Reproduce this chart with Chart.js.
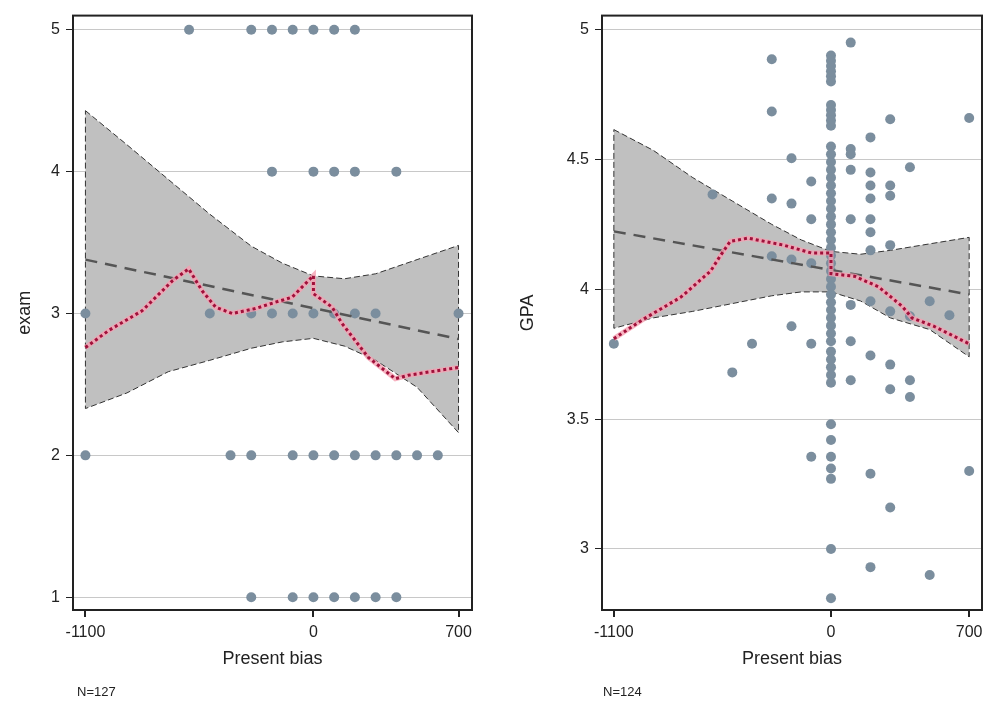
<!DOCTYPE html>
<html>
<head>
<meta charset="utf-8">
<script src="https://cdn.jsdelivr.net/npm/chart.js@4.4.0/dist/chart.umd.min.js"></script>
<style>
  body { margin: 0; background: #fff; }
  #wrap { position: relative; width: 987px; height: 704px; overflow: hidden; }
  canvas { position: absolute; top: 0; }
  .note { position: absolute; top: 684px; font: 13px "Liberation Sans", Arial, sans-serif; color: #222; }
</style>
</head>
<body>
<div id="wrap">
  <canvas id="left" width="487" height="704" style="left:0"></canvas>
  <canvas id="right" width="487" height="704" style="left:500px"></canvas>
  <div class="note" style="left:77px">N=127</div>
  <div class="note" style="left:603px">N=124</div>
</div>
<script>
// x axis (Present bias), same for both panels
var xTicks = [-1100, 0, 700];

// ---- left panel: exam ----
var examTicks = [1, 2, 3, 4, 5];
var examLevels = [5, 4, 3, 2, 1];
var examXs = [
  [-600, -300, -200, -100, 0, 100, 200],
  [-200, 0, 100, 200, 400],
  [-1100, -500, -300, -200, -100, 0, 100, 200, 300, 700],
  [-1100, -400, -300, -100, 0, 100, 200, 300, 400, 500, 600],
  [-300, -100, 0, 100, 200, 300, 400]
];
var examFitX = [-1100, 700];
var examFitY = [3.38, 2.82];
var bandX = [-1100, -900, -700, -500, -300, -150, 0, 150, 300, 500, 700];
var examUpper = [4.43, 4.19, 3.945, 3.70, 3.475, 3.355, 3.265, 3.245, 3.28, 3.38, 3.48];
var examLower = [2.33, 2.44, 2.59, 2.67, 2.755, 2.80, 2.825, 2.77, 2.67, 2.48, 2.16];
var examLowX = [-1100, -988, -826, -681, -602, -537, -472, -392, -280, -183, -103, 0, 0, 90, 138, 265, 395, 458, 700];
var examLowY = [2.76, 2.88, 3.02, 3.23, 3.315, 3.16, 3.045, 3.0, 3.035, 3.08, 3.115, 3.267, 3.14, 3.045, 2.93, 2.69, 2.54, 2.565, 2.62];

// ---- right panel: GPA ----
var gpaTicks = [3, 3.5, 4, 4.5, 5];
var gpaXs = [-1100, -600, -500, -400, -300, -200, -100, 0, 100, 200, 300, 400, 500, 600, 700];
var gpaYs = [
  [3.79],
  [4.365],
  [3.68],
  [3.79],
  [4.886, 4.685, 4.35, 4.127],
  [4.505, 4.33, 4.115, 3.858],
  [4.415, 4.27, 4.10, 3.79, 3.355],
  [4.90, 4.88, 4.86, 4.84, 4.82, 4.80, 4.71, 4.69, 4.67, 4.65, 4.63,
   4.55, 4.52, 4.49, 4.46, 4.43, 4.40, 4.37, 4.34, 4.31, 4.28, 4.25, 4.22, 4.19, 4.16, 4.13,
   4.10, 4.07, 4.04, 4.01, 3.98, 3.95, 3.92, 3.89, 3.86, 3.83, 3.80, 3.76, 3.73, 3.70, 3.67, 3.64,
   3.48, 3.42, 3.355, 3.31, 3.27, 3.0, 2.81],
  [4.95, 4.54, 4.52, 4.46, 4.27, 3.94, 3.80, 3.65],
  [4.585, 4.45, 4.40, 4.35, 4.27, 4.22, 4.15, 3.954, 3.745, 3.29, 2.93],
  [4.655, 4.40, 4.36, 4.17, 3.915, 3.71, 3.615, 3.16],
  [4.47, 3.896, 3.65, 3.585],
  [3.954, 2.90],
  [3.90],
  [4.66, 3.30]
];
var gpaFitX = [-1100, 700];
var gpaFitY = [4.223, 3.98];
var gpaUpper = [4.615, 4.535, 4.43, 4.34, 4.25, 4.19, 4.146, 4.135, 4.15, 4.175, 4.20];
var gpaLower = [3.85, 3.89, 3.915, 3.945, 3.975, 3.99, 3.99, 3.955, 3.89, 3.845, 3.74];
var gpaLowX = [-1100, -950, -760, -610, -560, -510, -420, -240, -100, 0, 0, 120, 240, 360, 410, 520, 700];
var gpaLowY = [3.81, 3.885, 3.97, 4.07, 4.13, 4.185, 4.197, 4.17, 4.14, 4.14, 4.06, 4.05, 4.01, 3.935, 3.89, 3.858, 3.79];

var FONT = '"Liberation Sans", Arial, sans-serif';
var DARK = '#222';

function pts(xs, ys) {
  var out = [];
  for (var i = 0; i < xs.length; i++) out.push({x: xs[i], y: ys[i]});
  return out;
}

// closed outline: upper left->right, then lower right->left
function bandPts(xs, up, lo) {
  var out = pts(xs, up);
  for (var i = xs.length - 1; i >= 0; i--) out.push({x: xs[i], y: lo[i]});
  out.push({x: xs[0], y: up[0]});
  return out;
}

// frame round the plot area
var frame = {
  id: 'frame',
  afterDraw: function (chart) {
    var a = chart.chartArea, c = chart.ctx;
    c.save();
    c.strokeStyle = DARK;
    c.lineWidth = 2;
    c.strokeRect(a.left, a.top, a.right - a.left, a.bottom - a.top);
    c.restore();
  }
};

function plain(v) { return String(v); }

function makePanel(id, o) {
  return new Chart(document.getElementById(id).getContext('2d'), {
    type: 'scatter',
    data: {
      datasets: [
        {type: 'line', data: o.low, borderColor: '#a0103a', borderWidth: 3, borderDash: [3, 3], pointRadius: 0, fill: false, tension: 0, order: 0},
        {type: 'line', data: o.low, borderColor: 'rgba(245,160,178,0.8)', borderWidth: 5, pointRadius: 0, fill: false, tension: 0, order: 1},
        {type: 'line', data: o.fit, borderColor: '#555', borderWidth: 2.5, borderDash: [12, 8], pointRadius: 0, fill: false, order: 2},
        {data: o.points, backgroundColor: '#7b8e9e', borderWidth: 0, pointRadius: 5, order: 3},
        {type: 'line', data: o.band, borderColor: '#333', borderWidth: 1, borderDash: [6, 3], backgroundColor: 'rgb(192,192,192)', pointRadius: 0, fill: 'shape', tension: 0, order: 4}
      ]
    },
    options: {
      responsive: false,
      animation: false,
      layout: {padding: {top: 14, right: o.padRight, bottom: 0, left: 0}},
      plugins: {legend: {display: false}, tooltip: {enabled: false}},
      scales: {
        x: {
          type: 'linear', min: -1160, max: 765,
          afterBuildTicks: function (s) { s.ticks = xTicks.map(function (v) { return {value: v}; }); },
          afterFit: function (s) { s.height = 94; s.paddingLeft = 0; s.paddingRight = 0; },
          grid: {drawOnChartArea: false, tickLength: 7, tickColor: DARK, lineWidth: 2},
          border: {display: false},
          ticks: {color: DARK, font: {family: FONT, size: 16}, padding: 6, maxRotation: 0, callback: plain},
          title: {display: true, text: 'Present bias', color: DARK, font: {family: FONT, size: 18}, padding: {top: 0, bottom: 34}}
        },
        y: {
          min: o.yMin, max: o.yMax,
          afterBuildTicks: function (s) { s.ticks = o.yTicks.map(function (v) { return {value: v}; }); },
          afterFit: function (s) { s.width = o.yWidth; },
          grid: {color: '#c8c8c8', lineWidth: 1, tickLength: 7, tickColor: DARK},
          border: {display: false},
          ticks: {color: DARK, font: {family: FONT, size: 16}, padding: 6, callback: plain},
          title: {display: true, text: o.yTitle, color: DARK, font: {family: FONT, size: 18}, padding: {top: o.titlePad, bottom: 0}}
        }
      }
    },
    plugins: [frame]
  });
}

var examPoints = [];
for (var i = 0; i < examLevels.length; i++) {
  for (var j = 0; j < examXs[i].length; j++) examPoints.push({x: examXs[i][j], y: examLevels[i]});
}
var gpaPoints = [];
for (var i = 0; i < gpaXs.length; i++) {
  for (var j = 0; j < gpaYs[i].length; j++) gpaPoints.push({x: gpaXs[i], y: gpaYs[i][j]});
}

makePanel('left', {
  points: examPoints, fit: pts(examFitX, examFitY), band: bandPts(bandX, examUpper, examLower),
  low: pts(examLowX, examLowY), yMin: 0.91, yMax: 5.1, yTicks: examTicks,
  yTitle: 'exam', yWidth: 73, titlePad: 14, padRight: 15
});
makePanel('right', {
  points: gpaPoints, fit: pts(gpaFitX, gpaFitY), band: bandPts(bandX, gpaUpper, gpaLower),
  low: pts(gpaLowX, gpaLowY), yMin: 2.765, yMax: 5.054, yTicks: gpaTicks,
  yTitle: 'GPA', yWidth: 102, titlePad: 17, padRight: 4
});
</script>
</body>
</html>
